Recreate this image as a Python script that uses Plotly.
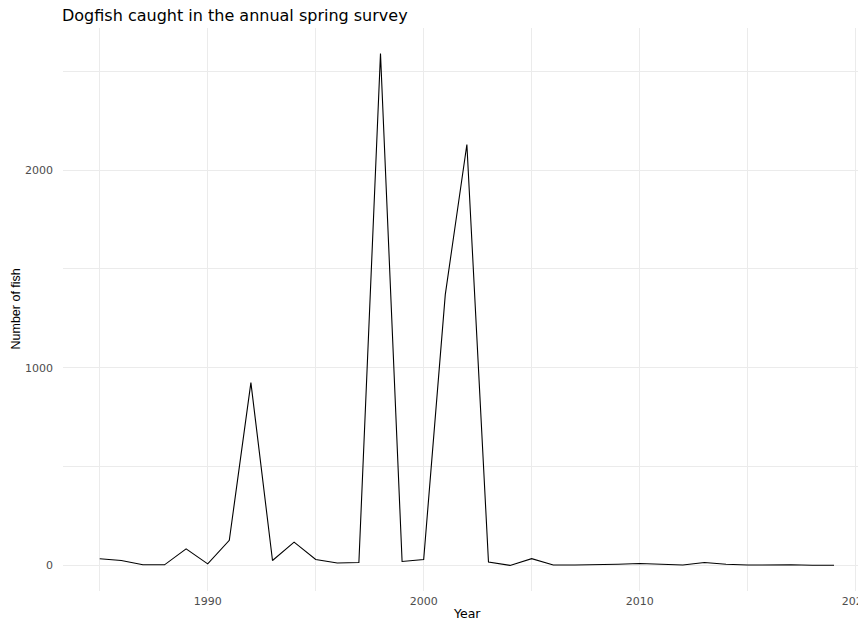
import plotly.graph_objects as go

# annual spring survey counts
years = list(range(1985, 2020))
dogfish = [34, 25, 3, 3, 84, 8, 127, 925, 25, 118, 30, 12, 15, 2590, 20, 30,
           1370, 2130, 17, 0, 34, 2, 2, 3, 6, 10, 6, 2, 15, 6, 2, 4, 3, 1, 1]

y_ticks = [0, 1000, 2000]
x_ticks = [1990, 2000, 2010, 2020]

fig = go.Figure()
fig.add_trace(go.Scatter(x=years, y=dogfish, mode='lines',
                         line=dict(color='black', width=1.1),
                         hoverinfo='x+y'))

grid = '#EBEBEB'
wide = 'DejaVu Sans, Verdana, sans-serif'
# the page body adds an 8px offset, so margins are trimmed by that much
fig.update_layout(
    width=866, height=620,
    paper_bgcolor='white', plot_bgcolor='white',
    margin=dict(l=55, r=0, t=20, b=37, autoexpand=False),
    showlegend=False,
    font=dict(family=wide),
    title=dict(text='Dogfish caught in the annual spring survey',
               x=54 / 866, xanchor='left', xref='container',
               y=1 - 7 / 620, yanchor='middle', yref='container',
               font=dict(size=16, color='black', family=wide)),
    xaxis=dict(range=[1983.3, 2020.85], tickvals=x_ticks, automargin=False,
               showgrid=True, gridcolor=grid, gridwidth=1.1,
               minor=dict(tickvals=[1985, 1995, 2005, 2015], showgrid=True,
                          gridcolor=grid, gridwidth=0.6),
               zeroline=False, showline=False, ticks='',
               ticklabeloverflow='allow', ticklabelstandoff=2,
               tickfont=dict(size=11, color='#4D4D4D', family=wide)),
    yaxis=dict(range=[-129.5, 2719.5], tickvals=y_ticks, automargin=False,
               showgrid=True, gridcolor=grid, gridwidth=1.1,
               minor=dict(tickvals=[500, 1500, 2500], showgrid=True,
                          gridcolor=grid, gridwidth=0.6),
               zeroline=False, showline=False, ticks='',
               ticklabelstandoff=9,
               tickfont=dict(size=11, color='#4D4D4D', family=wide)),
    annotations=[
        dict(text='Year', xref='x', yref='paper', x=2002, y=0,
             yshift=-13, xanchor='center', yanchor='top', showarrow=False,
             font=dict(size=12.5, color='black', family=wide)),
        dict(text='Number of fish', xref='paper', yref='paper', x=0, y=0.5,
             xshift=-48, xanchor='center', yanchor='middle', showarrow=False,
             textangle=-90,
             font=dict(size=12.5, color='black',
                       family='Liberation Sans Narrow, Liberation Sans, sans-serif')),
    ],
)

fig.write_html("out.html")
